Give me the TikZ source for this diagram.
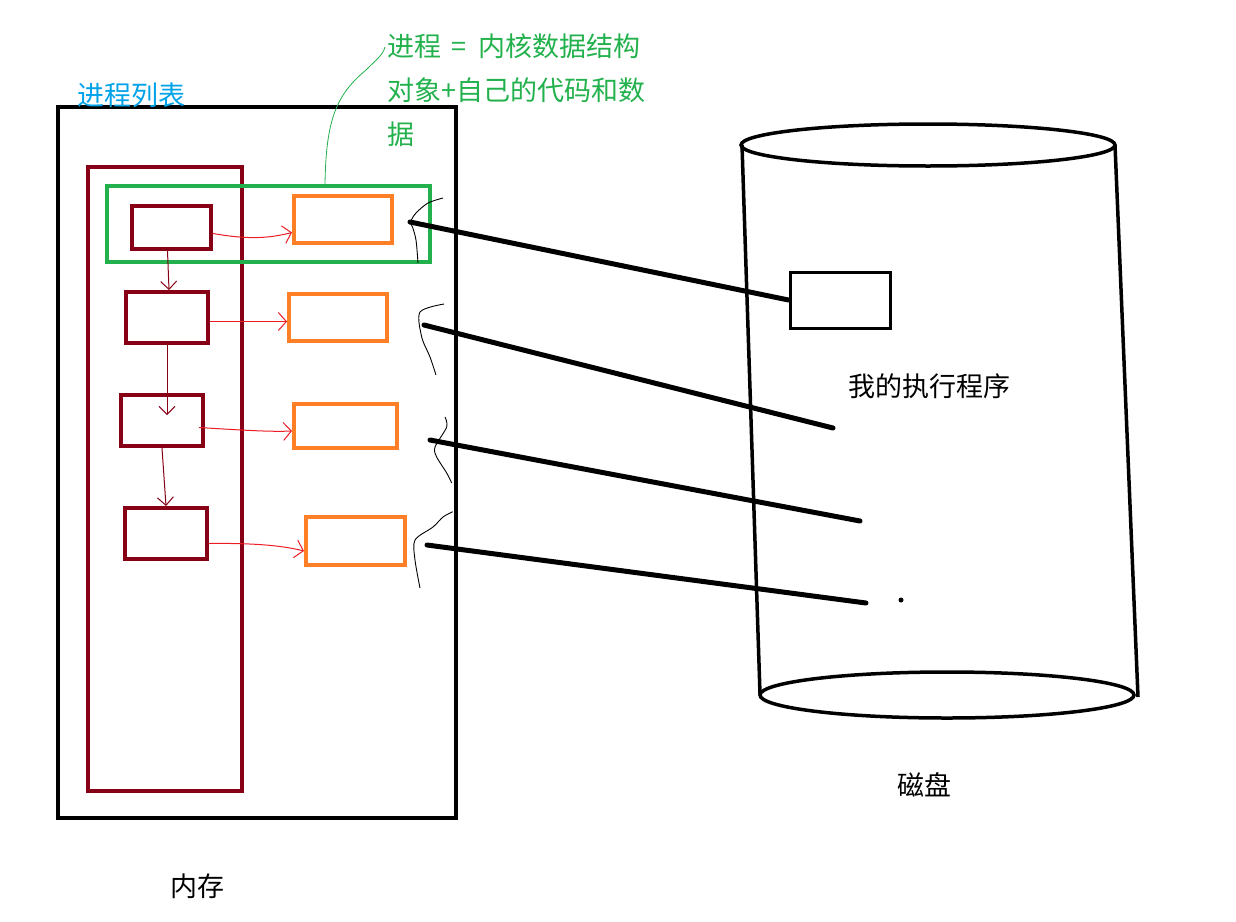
\documentclass[tikz,border=0pt]{standalone}
\usepackage{fontspec}
\newfontfamily\cjk{Noto Sans CJK SC}
\usepackage{xcolor}
\usetikzlibrary{arrows.meta}
\definecolor{pcbred}{HTML}{880015}
\definecolor{codeorange}{HTML}{FF7F27}
\definecolor{objgreen}{HTML}{22B14C}
\definecolor{listblue}{HTML}{00A2E8}
\definecolor{linkred}{HTML}{ED1C24}

\begin{document}
\begin{tikzpicture}[x=1pt, y=-1pt,
    pcbbox/.style={draw=pcbred, line width=4pt, inner sep=0pt},
    codebox/.style={draw=codeorange, line width=4pt, inner sep=0pt},
    linkline/.style={line width=5pt, line cap=round},
    redarrow/.style={draw=linkred, line width=1pt, -{Straight Barb[length=8pt, width=18pt]}},
    nextarrow/.style={draw=pcbred, line width=1pt, -{Straight Barb[length=8pt, width=16pt]}},
    squiggle/.style={line width=0.9pt, smooth},
    label/.style={font=\cjk\fontsize{27}{44}\selectfont, inner sep=0pt}]
    \useasboundingbox (0,0) rectangle (1236,921);

    % memory
    \node[draw, line width=4pt, minimum width=398pt, minimum height=711pt] (mem) at (257,462.5) {};
    \node[label] (memlabel) at (197,886) {内存};
    \node[label, text=listblue, anchor=west] (listlabel) at (77,95) {进程列表};
    \node[draw=pcbred, line width=4pt, minimum width=154pt, minimum height=624pt] (plist) at (165,479) {};

    % process = kernel object + code
    \node[draw=objgreen, line width=4pt, minimum width=323pt, minimum height=76pt] (proc) at (268.5,224) {};
    \node[label, text=objgreen, anchor=west, align=left] (proclabel) at (387,90) {进程\hspace{10pt}=\hspace{12pt}内核数据结构\\对象+自己的代码和数\\据};
    \draw[objgreen, line width=0.8pt] (proc.north -| 325,0) .. controls (326,120) and (336,95) .. (366,70) .. controls (376,60) and (383,55) .. (385,47);

    % pcb list
    \node[pcbbox, minimum width=79pt, minimum height=43pt] (pcb1) at (171.5,227.5) {};
    \node[pcbbox, minimum width=82pt, minimum height=51pt] (pcb2) at (167,317.5) {};
    \node[pcbbox, minimum width=82pt, minimum height=51pt] (pcb3) at (162,420.5) {};
    \node[pcbbox, minimum width=82pt, minimum height=51pt] (pcb4) at (166,533.5) {};

    % code and data
    \node[codebox, minimum width=98pt, minimum height=47pt] (code1) at (343,219.5) {};
    \node[codebox, minimum width=98pt, minimum height=47pt] (code2) at (338,317.5) {};
    \node[codebox, minimum width=103pt, minimum height=44pt] (code3) at (345.5,426) {};
    \node[codebox, minimum width=99pt, minimum height=48pt] (code4) at (355.5,541) {};

    \draw[nextarrow] ([xshift=-4pt]pcb1.south) -- ([xshift=2pt]pcb2.north);
    \draw[nextarrow] (pcb2.south) -- ([shift={(5,22)}]pcb3.north);
    \draw[nextarrow] (pcb3.south) -- (pcb4.north);

    \draw[redarrow] ([yshift=-6pt]pcb1.east) .. controls (250,240) and (270,238) .. ([yshift=-13pt]code1.west);
    \draw[redarrow] ([yshift=-4pt]pcb2.east) -- ([yshift=-4pt]code2.west);
    \draw[redarrow] ([xshift=-6pt, yshift=-7pt]pcb3.east) .. controls (240,430) and (270,432) .. ([yshift=-5pt]code3.west);
    \draw[redarrow] ([yshift=-10pt]pcb4.east) .. controls (250,543) and (280,545) .. ([yshift=-10pt]code4.west);

    % hand strokes beside the code boxes
    \draw[squiggle] plot coordinates {(443,198) (428,203) (416,213) (410.5,222) (412.5,227) (416,240) (418,263)};
    \draw[squiggle] plot coordinates {(444,304) (420,312) (421.7,337) (430,357) (436,375)};
    \draw[squiggle] plot coordinates {(445,417) (446.7,427) (435,447) (436.7,457) (446.7,473) (451.7,483)};
    \draw[squiggle] plot coordinates {(452.7,511.7) (443,517) (433,527) (415,540) (415,560) (420,588)};

    % disk
    \draw[line width=3.5pt] (928,145) ellipse (187pt and 21pt);
    \draw[line width=3.5pt] (947,695) ellipse (187pt and 23pt);
    \draw[line width=3.5pt] (742,145) -- (760,694);
    \draw[line width=3.5pt] (1115,145) -- (1138,697);
    \node[label] (disklabel) at (924,785) {磁盘};
    \node[draw, line width=3pt, minimum width=100pt, minimum height=56pt] (prog) at (840,300) {};
    \node[label] (proglabel) at (929,386) {我的执行程序};
    \fill (901,600) circle (2.5pt);

    % links to the program on disk
    \coordinate (src1) at (410,222);
    \coordinate (src2) at (424,325);
    \coordinate (src3) at (430,440);
    \coordinate (src4) at (427,545);
    \coordinate (dst2) at (833,428);
    \coordinate (dst3) at (860,521);
    \coordinate (dst4) at (866,603);
    \draw[linkline] (src1) -- (prog.west);
    \draw[linkline] (src2) -- (dst2);
    \draw[linkline] (src3) -- (dst3);
    \draw[linkline] (src4) -- (dst4);
\end{tikzpicture}
\end{document}
